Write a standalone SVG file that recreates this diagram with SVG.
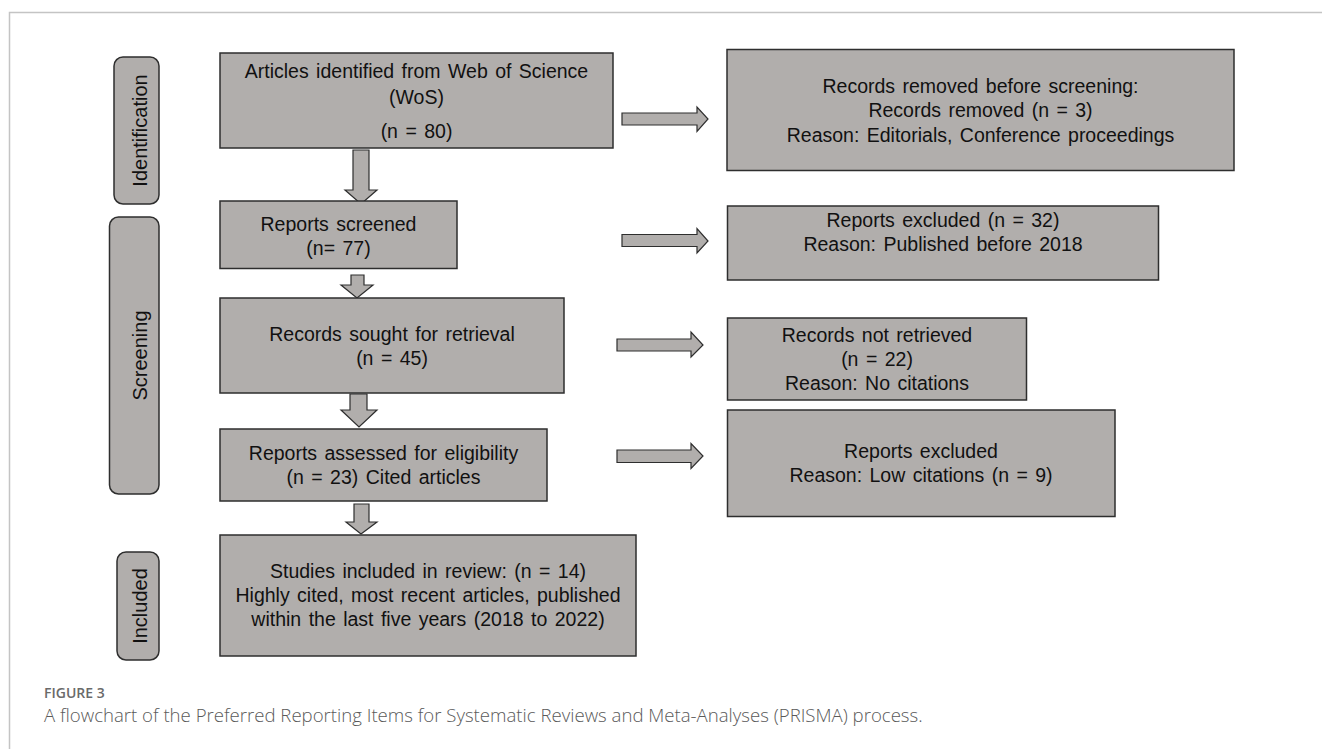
<svg xmlns="http://www.w3.org/2000/svg" width="1322" height="749" viewBox="0 0 1322 749">
<style>
.box{fill:#b1aeac;stroke:#2e2e2e;stroke-width:1.5}
.pill{fill:#b1aeac;stroke:#2e2e2e;stroke-width:1.5}
.arr{fill:#b1aeac;stroke:#2e2e2e;stroke-width:1.2;stroke-linejoin:miter}
.t{font-family:"Liberation Sans",Arial,sans-serif;font-size:19.5px;fill:#111;text-anchor:middle;word-spacing:2px}
.side{font-family:"Liberation Sans",Arial,sans-serif;font-size:20px;fill:#111;text-anchor:middle}
.frame{fill:none;stroke:#c4c4c4;stroke-width:1.5}
.fig{font-family:"Open Sans","Noto Sans",sans-serif;font-size:14px;font-weight:600;fill:#6a6a6a}
.cap{font-family:"Open Sans","Noto Sans",sans-serif;font-size:18.6px;font-weight:300;fill:#5a5a5a}
</style>
<rect width="1322" height="749" fill="#ffffff"/>
<path class="frame" d="M9.5,749 V12.5 H1322"/>

<g id="stage-identification">
<rect class="pill" x="114" y="57" width="45" height="147" rx="9"/>
<text class="side" transform="translate(147,130.5) rotate(-90)">Identification</text>
</g>
<g id="stage-screening">
<rect class="pill" x="109.5" y="217" width="49.5" height="277" rx="9"/>
<text class="side" transform="translate(147,355.5) rotate(-90)">Screening</text>
</g>
<g id="stage-included">
<rect class="pill" x="117" y="552" width="42" height="108" rx="9"/>
<text class="side" transform="translate(146.5,606) rotate(-90)">Included</text>
</g>

<g id="connectors">
<polygon class="arr" points="353,150 369,150 369,190 377,190 361,204 345,190 353,190"/>
<polygon class="arr" points="351,275 364,275 364,285 373,285 357,298 341,285 351,285"/>
<polygon class="arr" points="350,394 367,394 367,410 377,410 359,427 341,410 350,410"/>
<polygon class="arr" points="354,504 369,504 369,522 377,522 361,534 346,522 354,522"/>
<polygon class="arr" points="622,113 697,113 697,107 708,119 697,131.5 697,125 622,125"/>
<polygon class="arr" points="622,234.5 697,234.5 697,228.5 708,241 697,253 697,246.5 622,246.5"/>
<polygon class="arr" points="617,339 691,339 691,332 703,345 691,357 691,351 617,351"/>
<polygon class="arr" points="617,450 691,450 691,443.5 703,456 691,468.5 691,462.5 617,462.5"/>
</g>

<g id="n-articles">
<rect class="box" x="220" y="53" width="393" height="95"/>
<text class="t" x="416.5" y="77.5">Articles identified from Web of Science</text>
<text class="t" x="416.5" y="104">(WoS)</text>
<text class="t" x="416.5" y="138">(n = 80)</text>
</g>
<g id="n-screened">
<rect class="box" x="220" y="201" width="237" height="67.5"/>
<text class="t" x="338.5" y="231">Reports screened</text>
<text class="t" x="338.5" y="255">(n= 77)</text>
</g>
<g id="n-sought">
<rect class="box" x="220" y="298" width="344" height="95"/>
<text class="t" x="392" y="341">Records sought for retrieval</text>
<text class="t" x="392" y="365">(n = 45)</text>
</g>
<g id="n-assessed">
<rect class="box" x="220" y="429" width="327" height="72"/>
<text class="t" x="383.5" y="460">Reports assessed for eligibility</text>
<text class="t" x="383.5" y="484">(n = 23) Cited articles</text>
</g>
<g id="n-included">
<rect class="box" x="220" y="535" width="416" height="121"/>
<text class="t" x="428" y="578">Studies included in review: (n = 14)</text>
<text class="t" x="428" y="602">Highly cited, most recent articles, published</text>
<text class="t" x="428" y="626">within the last five years (2018 to 2022)</text>
</g>

<g id="n-removed">
<rect class="box" x="727" y="49.5" width="507" height="121"/>
<text class="t" x="980.5" y="93">Records removed before screening:</text>
<text class="t" x="980.5" y="117">Records removed (n = 3)</text>
<text class="t" x="980.5" y="141.5">Reason: Editorials, Conference proceedings</text>
</g>
<g id="n-excluded1">
<rect class="box" x="727.5" y="206" width="431" height="74"/>
<text class="t" x="943" y="226.5">Reports excluded (n = 32)</text>
<text class="t" x="943" y="250.5">Reason: Published before 2018</text>
</g>
<g id="n-notretrieved">
<rect class="box" x="727.5" y="318" width="299" height="82"/>
<text class="t" x="877" y="341.5">Records not retrieved</text>
<text class="t" x="877" y="365.5">(n = 22)</text>
<text class="t" x="877" y="390">Reason: No citations</text>
</g>
<g id="n-excluded2">
<rect class="box" x="727.5" y="410" width="387.5" height="106.5"/>
<text class="t" x="921" y="458">Reports excluded</text>
<text class="t" x="921" y="482">Reason: Low citations (n = 9)</text>
</g>

<text class="fig" x="44" y="698">FIGURE 3</text>
<text class="cap" x="44" y="722">A flowchart of the Preferred Reporting Items for Systematic Reviews and Meta-Analyses (PRISMA) process.</text>
</svg>
